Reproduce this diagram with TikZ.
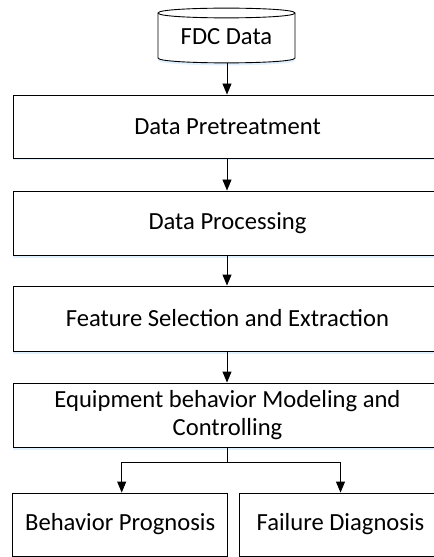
\documentclass[tikz,border=0pt]{standalone}
\usepackage{fontspec}
\setmainfont{Carlito}
\usetikzlibrary{arrows.meta,shadows}
\begin{document}
\begin{tikzpicture}[x=1bp,y=-1bp,
  every node/.style={font=\fontsize{24.7}{28.3}\selectfont, align=center, inner sep=0pt},
  soft/.style={drop shadow={shadow xshift=0bp, shadow yshift=-2.5bp, fill=blue!50!cyan, opacity=.12}},
  stepbox/.style={draw=black, line width=0.9bp, fill=white, soft},
  leafbox/.style={draw=black, line width=0.9bp, fill=white},
  flow/.style={draw=black, line width=0.9bp, -{Triangle[width=9bp,length=11bp]}}]
\useasboundingbox (0,0) rectangle (434,557);
\clip (0,0) rectangle (434,557);

% database cylinder
\path[draw=black, line width=0.9bp, fill=white, soft]
  (158,13) -- (158,58) .. controls (158,64.5) and (295,64.5) .. (295,58) -- (295,13)
  .. controls (295,6.5) and (158,6.5) .. (158,13) -- cycle;
\draw[line width=0.9bp] (158,13) .. controls (158,19.5) and (295,19.5) .. (295,13);
\node (fdc) at (226.5,37) {FDC Data};
\coordinate (fdcbottom) at (227,63);

% process chain
\node[stepbox, minimum width=429bp, minimum height=63bp] (pre) at (227.5,126.5) {Data Pretreatment};
\node[stepbox, minimum width=429bp, minimum height=64bp] (proc) at (227.5,223) {Data Processing};
\node[stepbox, minimum width=429bp, minimum height=65bp] (feat) at (227.5,318.5) {Feature Selection and Extraction};
\node[stepbox, minimum width=429bp, minimum height=64bp] (model) at (227.5,415) {Equipment behavior Modeling and\\Controlling};

% outcomes
\node[leafbox, minimum width=215bp, minimum height=63bp] (prog) at (120.2,524.5) {Behavior Prognosis};
\node[leafbox, minimum width=203bp, minimum height=63bp] (diag) at (340.5,524.5) {Failure Diagnosis};

% connectors
\draw[flow] (fdcbottom) -- (pre.north -| fdcbottom);
\draw[flow] (pre.south -| fdcbottom) -- (proc.north -| fdcbottom);
\draw[flow] (proc.south -| fdcbottom) -- (feat.north -| fdcbottom);
\draw[flow] (feat.south -| fdcbottom) -- (model.north -| fdcbottom);
\coordinate (split) at (227,462.7);
\draw[line width=0.9bp] (model.south -| split) -- (split);
\draw[flow] (split) -| ([xshift=1.5bp]prog.north);
\draw[flow] (split) -| (diag.north);
\end{tikzpicture}
\end{document}
